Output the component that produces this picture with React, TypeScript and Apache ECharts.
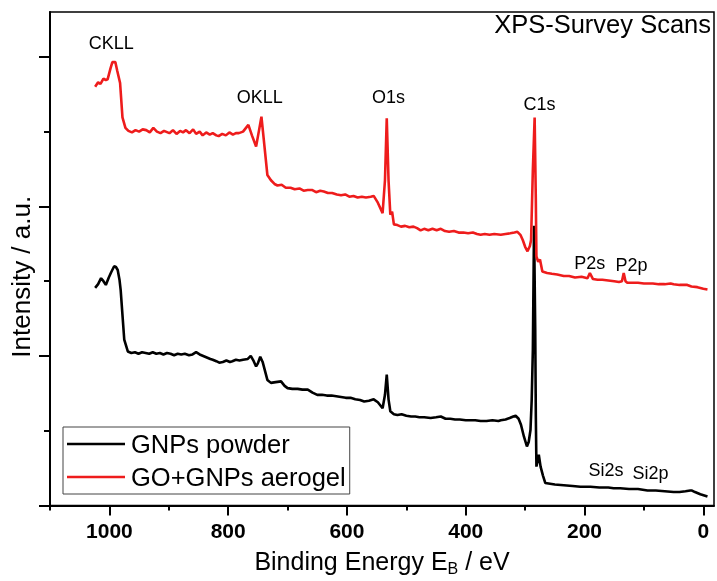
import React, { useEffect, useRef } from 'react';
import * as echarts from 'echarts';

// Binding energy (eV), intensity (a.u.)
const gnpsPowder: [number, number][] = [
  [1024, 2.91], [1019, 2.96], [1014, 3.04], [1010, 3.0], [1006, 2.95], [1001, 3.05], [997, 3.12], [992, 3.2],
  [989, 3.19], [986, 3.15], [983, 3.02], [981, 2.88], [978, 2.55], [975, 2.22], [969, 2.06], [963, 2.04],
  [957, 2.05], [951, 2.03], [945, 2.05], [939, 2.04], [933, 2.03], [927, 2.05], [921, 2.03], [915, 2.04],
  [909, 2.02], [903, 2.04], [897, 2.03], [891, 2.01], [885, 2.03], [879, 2.02], [873, 2.03], [866, 2.01],
  [860, 2.02], [854, 2.05], [848, 2.02], [842, 2.0], [836, 1.98], [830, 1.96], [826, 1.95], [820, 1.93],
  [815, 1.91], [809, 1.92], [803, 1.94], [797, 1.92], [793, 1.93], [787, 1.95], [781, 1.94], [775, 1.95],
  [767, 1.96], [762, 2.0], [757, 1.93], [753, 1.86], [750, 1.9], [746, 1.99], [742, 1.92], [734, 1.68],
  [728, 1.64], [720, 1.65], [711, 1.66], [705, 1.6], [700, 1.57], [692, 1.56], [683, 1.56], [675, 1.55],
  [666, 1.55], [658, 1.51], [650, 1.48], [642, 1.48], [634, 1.47], [626, 1.47], [618, 1.46], [610, 1.45],
  [602, 1.44], [594, 1.44], [586, 1.42], [578, 1.41], [571, 1.39], [563, 1.4], [555, 1.42], [548, 1.38],
  [540, 1.3], [536, 1.48], [533, 1.75], [530, 1.42], [527, 1.26], [521, 1.22], [515, 1.21], [508, 1.22],
  [500, 1.2], [492, 1.19], [485, 1.19], [478, 1.18], [470, 1.18], [459, 1.17], [450, 1.18], [442, 1.19],
  [434, 1.16], [426, 1.16], [418, 1.15], [410, 1.15], [400, 1.14], [392, 1.14], [384, 1.14], [375, 1.13],
  [365, 1.13], [355, 1.14], [345, 1.13], [341, 1.14], [333, 1.15], [326, 1.17], [320, 1.19], [316, 1.2],
  [311, 1.16], [307, 1.08], [302, 0.92], [297, 0.79], [294, 0.85], [291, 1.01], [289, 1.4], [287, 2.08],
  [285, 3.74], [283, 2.35], [282, 1.2], [281, 0.52], [279, 0.6], [277, 0.68], [274, 0.52], [270, 0.4],
  [266, 0.3], [258, 0.29], [250, 0.28], [235, 0.27], [220, 0.26], [207, 0.25], [190, 0.25], [175, 0.24],
  [160, 0.24], [151, 0.23], [140, 0.23], [125, 0.22], [110, 0.22], [94, 0.2], [80, 0.2], [65, 0.19],
  [50, 0.18], [40, 0.18], [30, 0.19], [22, 0.2], [19, 0.2], [14, 0.18], [5, 0.15], [-7, 0.12],
];

const goGnpsAerogel: [number, number][] = [
  [1024, 5.6], [1019, 5.66], [1015, 5.64], [1010, 5.71], [1006, 5.69], [1003, 5.7], [998, 5.85], [995, 5.93],
  [990, 5.93], [987, 5.82], [982, 5.65], [978, 5.19], [973, 5.05], [968, 5.01], [962, 4.99], [956, 5.02],
  [950, 5.0], [944, 5.03], [938, 5.02], [932, 4.99], [926, 5.05], [920, 5.0], [914, 4.98], [908, 5.01],
  [899, 4.98], [893, 5.02], [887, 4.97], [881, 5.01], [876, 4.99], [871, 5.02], [865, 4.98], [859, 5.03],
  [854, 4.97], [848, 5.0], [843, 4.95], [837, 4.99], [831, 4.96], [826, 4.98], [820, 4.95], [816, 4.94],
  [810, 4.97], [804, 4.95], [798, 4.99], [792, 4.96], [787, 4.98], [782, 4.98], [775, 5.0], [770, 5.05],
  [766, 5.09], [760, 4.95], [753, 4.8], [748, 5.02], [744, 5.2], [740, 4.89], [734, 4.42], [728, 4.35],
  [722, 4.3], [717, 4.28], [710, 4.29], [703, 4.25], [695, 4.25], [688, 4.23], [680, 4.24], [673, 4.21],
  [666, 4.22], [659, 4.22], [652, 4.19], [645, 4.21], [639, 4.2], [632, 4.18], [625, 4.18], [617, 4.16],
  [610, 4.15], [603, 4.16], [596, 4.13], [589, 4.14], [582, 4.12], [575, 4.13], [568, 4.12], [560, 4.13],
  [555, 4.14], [548, 4.05], [540, 3.91], [536, 4.35], [533, 5.18], [530, 4.35], [527, 3.89], [524, 3.93],
  [521, 3.76], [515, 3.75], [509, 3.73], [502, 3.74], [495, 3.72], [488, 3.73], [482, 3.71], [476, 3.68],
  [470, 3.7], [463, 3.68], [456, 3.7], [449, 3.68], [442, 3.7], [435, 3.67], [428, 3.66], [420, 3.67],
  [412, 3.65], [404, 3.65], [396, 3.64], [388, 3.65], [381, 3.63], [375, 3.62], [368, 3.63], [360, 3.62],
  [352, 3.63], [341, 3.62], [333, 3.63], [325, 3.64], [318, 3.65], [313, 3.66], [308, 3.62], [304, 3.55],
  [300, 3.46], [296, 3.4], [292, 3.47], [290, 3.55], [287, 4.49], [284, 5.19], [282, 4.09], [281, 3.33],
  [278, 3.26], [275, 3.29], [271, 3.13], [263, 3.11], [255, 3.1], [246, 3.09], [235, 3.07], [226, 3.07],
  [216, 3.05], [205, 3.06], [195, 3.04], [191, 3.11], [186, 3.03], [178, 3.02], [170, 3.02], [160, 3.01],
  [150, 3.0], [142, 2.99], [137, 3.0], [134, 3.11], [131, 3.0], [128, 2.98], [120, 2.98], [110, 2.98],
  [100, 2.97], [94, 2.97], [85, 2.97], [75, 2.96], [65, 2.96], [55, 2.97], [50, 2.96], [40, 2.95],
  [30, 2.95], [27, 2.95], [20, 2.93], [10, 2.92], [0, 2.9], [-7, 2.89],
];

const peakNames = ['CKLL', 'OKLL', 'O1s', 'C1s', 'P2s', 'P2p', 'Si2s', 'Si2p'];
const peakLabelEnergy = [997, 747, 530, 276, 191, 121, 164, 89];
const peakLabelLevel = [6.18, 5.46, 5.46, 5.37, 3.24, 3.22, 0.48, 0.44];

const xMajorTicks = [0, 200, 400, 600, 800, 1000];
const xMinorTicks = [100, 300, 500, 700, 900, 1100];
const yMajorTicks = [0, 2, 4, 6];
const yMinorTicks = [1, 3, 5];

const FONT = "'Liberation Sans', Arial, sans-serif";

export default function App() {
  const ref = useRef<HTMLDivElement>(null);

  useEffect(() => {
    if (!ref.current) return;
    const chart = echarts.init(ref.current, null, { renderer: 'svg' });
    const xCommon = { type: 'value', min: -18, max: 1100, inverse: true, position: 'bottom' };
    const yCommon = { type: 'value', min: 0, max: 6.6, position: 'left' };
    chart.setOption({
      animation: false,
      textStyle: { fontFamily: FONT, color: '#000' },
      title: {
        text: 'XPS-Survey Scans',
        right: 6,
        top: 11,
        padding: 0,
        textStyle: { fontFamily: FONT, fontSize: 25.5, fontWeight: 'normal', color: '#000' },
      },
      legend: {
        data: ['GNPs powder', 'GO+GNPs aerogel'],
        orient: 'vertical',
        left: 63,
        top: 427,
        padding: [4, 4, 4, 4],
        itemGap: 7,
        itemWidth: 58,
        itemHeight: 2.6,
        icon: 'rect',
        borderColor: '#444',
        borderWidth: 1,
        borderRadius: 0,
        textStyle: { fontFamily: FONT, fontSize: 25.5, color: '#000', padding: [0, 0, 0, 1] },
      },
      grid: { left: 49, top: 12, right: 3, bottom: 75, show: true, borderColor: '#000', borderWidth: 1.5 },
      xAxis: [
        {
          ...xCommon,
          name: '{a|Binding Energy E}{sub|B}{a| / eV}',
          nameLocation: 'middle',
          nameGap: 43,
          nameTextStyle: {
            rich: {
              a: { fontFamily: FONT, fontSize: 25, color: '#000', lineHeight: 25, verticalAlign: 'top' },
              sub: { fontFamily: FONT, fontSize: 16, color: '#000', lineHeight: 16, padding: [14, 0, 0, 0] },
            },
          },
          axisLine: { show: true, onZero: false, lineStyle: { color: '#000', width: 2 } },
          axisTick: { show: true, customValues: xMajorTicks, length: 10, lineStyle: { color: '#000', width: 2 } },
          axisLabel: {
            customValues: xMajorTicks,
            formatter: (v: number) => String(v),
            fontFamily: FONT,
            fontSize: 21,
            fontWeight: 'bold',
            color: '#000',
            margin: 14,
          },
          splitLine: { show: false },
        },
        {
          ...xCommon,
          axisLine: { show: false, onZero: false },
          axisTick: { show: true, customValues: xMinorTicks, length: 5, lineStyle: { color: '#000', width: 2 } },
          axisLabel: { show: false },
          splitLine: { show: false },
        },
      ],
      yAxis: [
        {
          ...yCommon,
          name: 'Intensity / a.u.',
          nameLocation: 'middle',
          nameGap: 16,
          nameTextStyle: { fontFamily: FONT, fontSize: 26, color: '#000', padding: [0, 36, 0, 0] },
          axisLine: { show: true, onZero: false, lineStyle: { color: '#000', width: 2 } },
          axisTick: { show: true, customValues: yMajorTicks, length: 11, lineStyle: { color: '#000', width: 2 } },
          axisLabel: { show: false },
          splitLine: { show: false },
        },
        {
          ...yCommon,
          axisLine: { show: false, onZero: false },
          axisTick: { show: true, customValues: yMinorTicks, length: 6, lineStyle: { color: '#000', width: 2 } },
          axisLabel: { show: false },
          splitLine: { show: false },
        },
      ],
      series: [
        {
          name: 'GNPs powder',
          type: 'line',
          data: gnpsPowder,
          symbol: 'none',
          lineStyle: { color: '#000', width: 2.6 },
          itemStyle: { color: '#000' },
          z: 2,
        },
        {
          name: 'GO+GNPs aerogel',
          type: 'line',
          data: goGnpsAerogel,
          symbol: 'none',
          lineStyle: { color: '#ee1c1c', width: 2.6 },
          itemStyle: { color: '#ee1c1c' },
          z: 3,
        },
        {
          name: 'peak labels',
          type: 'scatter',
          symbolSize: 0,
          itemStyle: { color: '#000', opacity: 1 },
          silent: true,
          z: 4,
          data: peakNames.map((n, i) => ({ name: n, value: [peakLabelEnergy[i], peakLabelLevel[i]] })),
          label: {
            show: true,
            position: 'inside',
            formatter: '{b}',
            fontFamily: FONT,
            fontSize: 18,
            color: '#000',
            textBorderWidth: 0,
            opacity: 1,
          },
        },
      ],
    });
    return () => chart.dispose();
  }, []);

  return <div ref={ref} style={{ position: 'fixed', left: 0, top: 0, width: 717, height: 581 }} />;
}
